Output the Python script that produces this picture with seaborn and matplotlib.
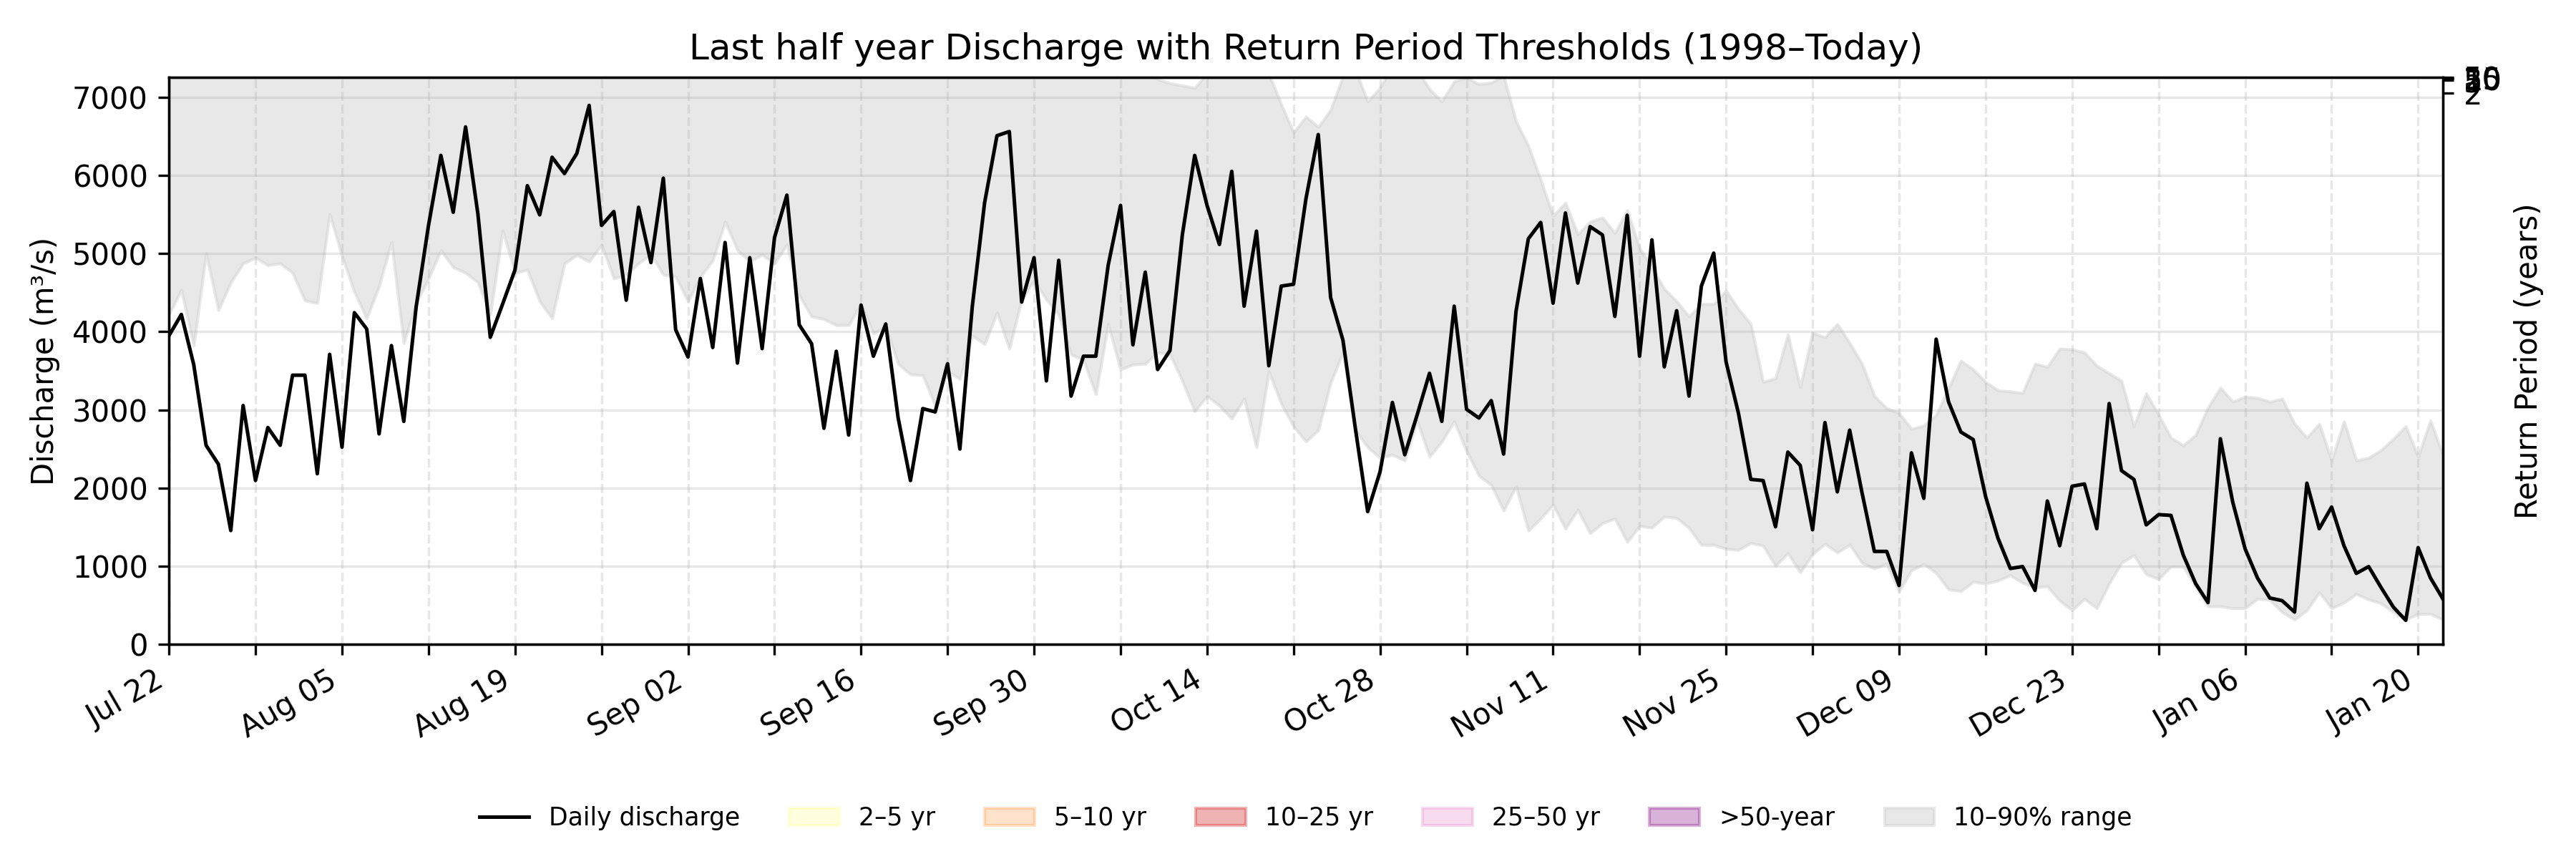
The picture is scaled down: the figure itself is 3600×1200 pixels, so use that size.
import pandas as pd
import numpy as np
import matplotlib
matplotlib.use('Agg')
import matplotlib.pyplot as plt
import seaborn as sns
from matplotlib.patches import Patch

# daily discharge, last half year (m3/s), starting Jul 22
discharge = [3950, 4220, 3580, 2546, 2304, 1455, 3055, 2095, 2774, 2546, 3443, 3443, 2182, 3710, 2522, 4243, 4035, 2692, 3822, 2852, 4316, 5359, 6256, 5528,
             6620, 5504, 3928, 4355, 4791, 5868, 5495, 6232, 6023, 6280, 6896, 5359, 5538, 4403, 5592, 4884, 5965, 4025, 3676, 4680, 3797, 5141, 3598,
             4947, 3783, 5204, 5747, 4088, 3846, 2764, 3749, 2677, 4340, 3686, 4098, 2900, 2095, 3016, 2973, 3589, 2498, 4316, 5650, 6508, 6561, 4379,
             4947, 3370, 4913, 3176, 3686, 3686, 4850, 5616, 3831, 4762, 3516, 3759, 5238, 6256, 5616, 5116, 6052, 4326, 5286, 3564, 4583, 4607, 5698, 6523,
             4437, 3889, 2764, 1697, 2207, 3094, 2425, 2934, 3467, 2852, 4326, 3007, 2895, 3118, 2434, 4258, 5189, 5398, 4365, 5519, 4622, 5344, 5238,
             4195, 5490, 3686, 5175, 3550, 4268, 3176, 4583, 5005, 3613, 2958, 2110, 2095, 1503, 2459, 2289, 1465, 2837, 1950, 2740, 1940, 1188, 1188,
             752, 2449, 1867, 3904, 3104, 2716, 2619, 1891, 1358, 970, 994, 689, 1833, 1261, 2022, 2051, 1479, 3080, 2221, 2110, 1528, 1659, 1649,
             1140, 776, 533, 2629, 1819, 1222, 849, 592, 558, 412, 2061, 1479, 1756, 1261, 907, 994, 727, 475, 306, 1237, 849, 582]

# 10th percentile of the same calendar day, 1998-today
p10 = [4220, 4534, 3822, 5005, 4277, 4631, 4874, 4947, 4850, 4874, 4753, 4399, 4365, 5504, 4971, 4510, 4171, 4583, 5150, 3855, 4365, 4680, 5044, 4825,
       4753, 4631, 4219, 5296, 4753, 4791, 4389, 4171, 4874, 4980, 4898, 5116, 4680, 4728, 4874, 4995, 4728, 4704, 4389, 4704, 4913, 5408, 5044,
       4898, 4985, 4874, 5116, 4462, 4195, 4161, 4083, 4083, 4355, 3977, 4074, 3589, 3453, 3443, 3055, 3492, 3395, 3952, 3841, 4243, 3783, 4413,
       4655, 4413, 4219, 3710, 3637, 3200, 4098, 3516, 3579, 3589, 3734, 3710, 3370, 2982, 3176, 3055, 2886, 3143, 2522, 3492, 3080, 2789, 2595, 2740,
       3346, 3734, 2740, 2522, 2386, 2425, 2352, 2862, 2401, 2595, 2852, 2473, 2158, 2037, 1712, 2022, 1455, 1610, 1785, 1479, 1722, 1421, 1550,
       1610, 1309, 1513, 1494, 1634, 1615, 1489, 1271, 1271, 1222, 1208, 1295, 1261, 1004, 1164, 921, 1154, 1285, 1174, 1275, 1043, 970, 1030,
       679, 946, 1028, 912, 703, 679, 800, 776, 815, 883, 786, 727, 742, 558, 436, 582, 461, 776, 1043, 1140, 897, 834, 994,
       994, 737, 485, 485, 461, 461, 582, 567, 412, 315, 436, 664, 461, 533, 645, 572, 524, 412, 315, 388, 388, 315]

# 90th percentile (values above the plot top are estimates)
p90 = [8400, 8700, 8300, 9100, 8800, 8900, 9200, 9300, 9100, 9000, 8900, 8700, 8600, 9400, 9100, 8800, 8600, 8900, 9300, 8400, 8800, 9100, 9600, 9400,
       9500, 9300, 8900, 9700, 9300, 9400, 9100, 9000, 9400, 9500, 9600, 9700, 9300, 9200, 9400, 9500, 9300, 9200, 8900, 9100, 9300, 9600, 9400,
       9300, 9400, 9200, 9500, 9000, 8800, 8600, 8500, 8500, 8800, 8400, 8500, 8000, 7900, 7900, 7600, 8000, 7800, 8300, 8200, 8500, 8100, 8600,
       8700, 8500, 8400, 8000, 7900, 7600, 8100, 7700, 7600, 7400, 7230, 7180, 7150, 7120, 7300, 7500, 7600, 7400, 7500, 7300, 6911, 6547, 6751, 6620,
       6838, 7270, 7350, 6945, 7119, 7400, 7450, 7350, 7105, 6945, 7202, 7250, 7168, 7187, 7275, 6692, 6377, 5941, 5480, 5650, 5247, 5407, 5460,
       5262, 5553, 5068, 4825, 4549, 4389, 4195, 4355, 4355, 4525, 4292, 4098, 3356, 3404, 3967, 3288, 3986, 3928, 4098, 3855, 3589, 3176, 3020,
       2958, 2755, 2798, 2934, 3274, 3628, 3516, 3356, 3249, 3235, 3215, 3589, 3550, 3783, 3773, 3734, 3564, 3467, 3370, 2789, 3210, 2934, 2643,
       2546, 2677, 3031, 3283, 3104, 3167, 3152, 3104, 3143, 2822, 2643, 2822, 2352, 2852, 2352, 2386, 2483, 2629, 2789, 2401, 2862, 2425]

# return period thresholds (m3/s)
rp_years = ['2', '5', '10', '25', '50']
rp_thresholds = [7055, 7215, 7235, 7245, 7255]
band_labels = ['2–5 yr', '5–10 yr', '10–25 yr', '25–50 yr', '>50-year']
band_colors = ['yellow', 'tab:orange', 'tab:red', 'tab:pink', 'purple']
band_alpha = [0.12, 0.22, 0.35, 0.25, 0.3]

dates = pd.date_range('2024-07-22', periods=len(discharge), freq='D')
df = pd.DataFrame({'date': dates, 'discharge': discharge, 'p10': p10, 'p90': p90})

fig, ax = plt.subplots(figsize=(12, 4), dpi=300)
fig.subplots_adjust(left=0.0656, right=0.9483, top=0.91, bottom=0.25)

rng = ax.fill_between(df['date'], df['p10'], df['p90'], color='lightgray', alpha=0.5, label='10–90% range')
sns.lineplot(data=df, x='date', y='discharge', color='black', linewidth=1.2, ax=ax, legend=False)

ax.set_xlim(dates[0], dates[-1])
ax.set_ylim(0, rp_thresholds[-1])

wk = dates[::7]
ax.set_xticks(wk)
ax.set_xticklabels([d.strftime('%b %d') if i % 2 == 0 else '' for i, d in enumerate(wk)])
plt.setp(ax.get_xticklabels(), rotation=30, ha='right')
ax.grid(axis='y', alpha=0.3)
ax.grid(axis='x', linestyle='--', alpha=0.3)
ax.set_xlabel('')
ax.set_ylabel('Discharge (m³/s)')
ax.set_title('Last half year Discharge with Return Period Thresholds (1998–Today)', fontsize=12)

ax2 = ax.twinx()
ax2.set_ylim(ax.get_ylim())
ax2.set_yticks(rp_thresholds)
ax2.set_yticklabels(rp_years)
ax2.set_ylabel('Return Period (years)')

handles = [ax.lines[0]]
for c, a, lab in zip(band_colors, band_alpha, band_labels):
    handles.append(Patch(facecolor=c, edgecolor=c, alpha=a, label=lab))
handles.append(rng)
labels = ['Daily discharge'] + band_labels + ['10–90% range']
ax.legend(handles, labels, loc='center', bbox_to_anchor=(0.5, -0.307), ncol=7,
          frameon=False, fontsize=8.3)

plt.savefig('out.png', dpi=300)
plt.close()
